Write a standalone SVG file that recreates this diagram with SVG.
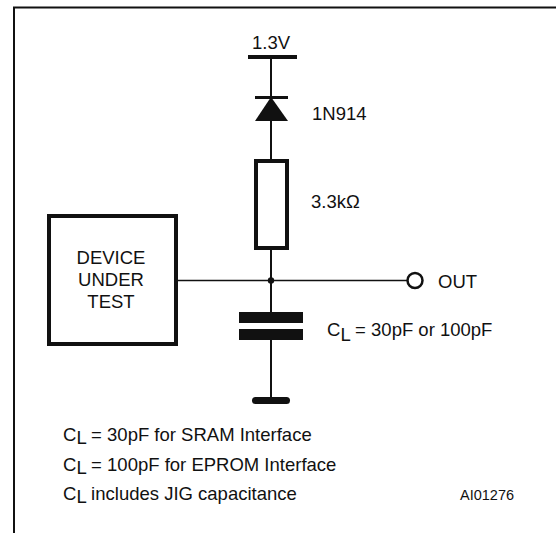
<svg xmlns="http://www.w3.org/2000/svg" width="556" height="533" viewBox="0 0 556 533">
<style>
  text { font-family: "Liberation Sans", Arial, sans-serif; font-size: 18.5px; fill: #111; }
  .small { font-size: 14.5px; }
  .wire { stroke: #111; stroke-width: 2; fill: none; }
  .thin { stroke: #111; stroke-width: 1.5; fill: none; }
  .solid { fill: #111; stroke: none; }
</style>
<rect x="0" y="0" width="556" height="533" fill="#fff"/>
<g id="frame">
  <path d="M14,533 V7.5 H556" stroke="#111" stroke-width="2" fill="none"/>
</g>
<g id="connectors">
  <line class="wire" x1="271" y1="57" x2="271" y2="97"/>
  <line class="wire" x1="271" y1="121" x2="271" y2="161"/>
  <line class="wire" x1="271" y1="248" x2="271" y2="312"/>
  <line class="wire" x1="271" y1="340" x2="271" y2="398"/>
  <line class="thin" x1="178" y1="280.5" x2="407.5" y2="280.5"/>
  <circle class="solid" cx="271" cy="280.5" r="3.2"/>
</g>
<g id="supply">
  <line x1="248" y1="57" x2="297" y2="57" stroke="#111" stroke-width="4"/>
  <text x="271" y="49" text-anchor="middle">1.3V</text>
</g>
<g id="diode">
  <line x1="255" y1="97.5" x2="288" y2="97.5" stroke="#111" stroke-width="3"/>
  <polygon class="solid" points="271,97 255,121 288,121"/>
  <text x="312" y="120">1N914</text>
</g>
<g id="resistor">
  <rect x="256" y="161" width="31" height="87" fill="#fff" stroke="#111" stroke-width="4"/>
  <text x="311" y="208">3.3kΩ</text>
</g>
<g id="dut">
  <rect x="49" y="216" width="127" height="128" fill="#fff" stroke="#111" stroke-width="4"/>
  <text x="111" y="264" text-anchor="middle">DEVICE</text>
  <text x="111" y="286" text-anchor="middle">UNDER</text>
  <text x="111" y="308" text-anchor="middle">TEST</text>
</g>
<g id="out">
  <circle cx="415" cy="280.5" r="7.5" fill="#fff" stroke="#111" stroke-width="2.5"/>
  <text x="438" y="288">OUT</text>
</g>
<g id="capacitor">
  <rect class="solid" x="239" y="312" width="64" height="11"/>
  <rect class="solid" x="239" y="329" width="64" height="11"/>
  <text x="327" y="336">C<tspan dy="5">L</tspan><tspan dy="-5"> = 30pF or 100pF</tspan></text>
</g>
<g id="ground">
  <line x1="255.5" y1="400.5" x2="286.5" y2="400.5" stroke="#111" stroke-width="7" stroke-linecap="round"/>
</g>
<g id="notes">
  <text x="63" y="441">C<tspan dy="3">L</tspan><tspan dy="-3"> = 30pF for SRAM Interface</tspan></text>
  <text x="63" y="471">C<tspan dy="3">L</tspan><tspan dy="-3"> = 100pF for EPROM Interface</tspan></text>
  <text x="63" y="500">C<tspan dy="3">L</tspan><tspan dy="-3"> includes JIG capacitance</tspan></text>
  <text class="small" x="460" y="500">AI01276</text>
</g>
</svg>
